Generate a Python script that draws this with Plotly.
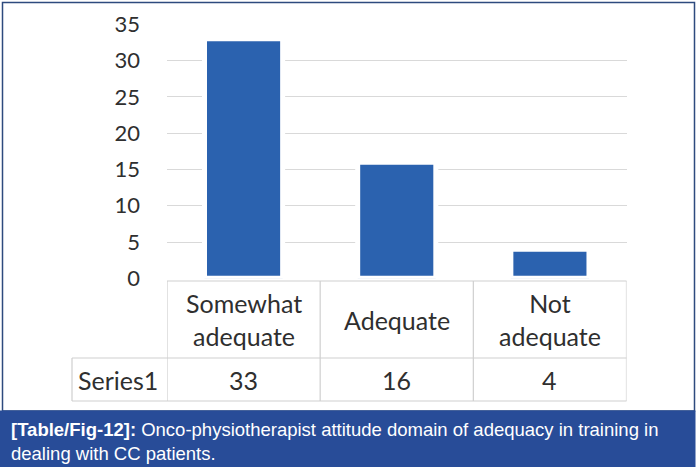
import plotly.graph_objects as go

# ---- data ----
categories = ["Somewhat<br>adequate", "Adequate", "Not<br>adequate"]
values = [33, 16, 4]
series_name = "Series1"
y_ticks = [0, 5, 10, 15, 20, 25, 30, 35]
caption_label = "[Table/Fig-12]:"
caption_text = "Onco-physiotherapist attitude domain of adequacy in training in<br>dealing with CC patients."

W, H = 699, 471


def px(x):
    return x / W


def py(y):
    return 1 - y / H


BAR = "#2b62af"
GRID = "#d9d9d9"
TABLE = "#cfcfcf"
TXT = "#2f2f2f"
FONT = "Lato"
FRAME = "#2d4a7e"
CAPBG = "#284c98"

x_idx = list(range(len(categories)))

fig = go.Figure(
    go.Bar(
        x=x_idx,
        y=values,
        width=0.51,
        marker=dict(color=BAR, line=dict(color="white", width=5)),
        showlegend=False,
        hoverinfo="skip",
    )
)

plot_left, plot_right = 167, 626.5
y0_px, y35_px = 278.3, 24.3

fig.update_layout(
    width=W,
    height=H,
    margin=dict(l=0, r=0, t=0, b=0, pad=0, autoexpand=False),
    paper_bgcolor="white",
    plot_bgcolor="white",
    xaxis=dict(
        domain=[px(plot_left), px(plot_right)],
        range=[-0.5, len(categories) - 0.5],
        showticklabels=False,
        showgrid=False,
        zeroline=False,
        showline=False,
        automargin=False,
        fixedrange=True,
    ),
    yaxis=dict(
        domain=[py(y0_px), py(y35_px)],
        range=[0, 35],
        tickvals=y_ticks,
        tickfont=dict(family=FONT, size=22, color=TXT),
        ticklabelstandoff=26,
        showgrid=True,
        gridcolor=GRID,
        gridwidth=1,
        zeroline=True,
        zerolinecolor="white",
        zerolinewidth=1,
        showline=False,
        ticks="",
        automargin=False,
        fixedrange=True,
    ),
)

shapes = []
# frame around chart
shapes.append(dict(type="rect", xref="paper", yref="paper",
                   x0=px(2.5), x1=px(694.5), y0=py(411), y1=py(2.5),
                   line=dict(color=FRAME, width=1.5), fillcolor="rgba(0,0,0,0)", layer="below"))
# caption box
shapes.append(dict(type="rect", xref="paper", yref="paper",
                   x0=0, x1=px(695.5), y0=py(467), y1=py(410.5),
                   line=dict(width=0), fillcolor=CAPBG, layer="above"))

# table lines
row_top, row_mid, row_bot = 281, 358, 401
series_left = 72
for (xa, xb, yy) in [(plot_left, plot_right, row_top),
                     (series_left, plot_right, row_mid),
                     (series_left, plot_right, row_bot)]:
    shapes.append(dict(type="line", xref="paper", yref="paper",
                       x0=px(xa), x1=px(xb), y0=py(yy), y1=py(yy),
                       line=dict(color=TABLE, width=1.2)))
shapes.append(dict(type="line", xref="paper", yref="paper",
                   x0=px(series_left), x1=px(series_left), y0=py(row_mid), y1=py(row_bot),
                   line=dict(color=TABLE, width=1.2)))
for b in [i - 0.5 for i in range(len(categories) + 1)]:
    shapes.append(dict(type="line", xref="x", yref="paper",
                       x0=b, x1=b, y0=py(row_top), y1=py(row_bot),
                       line=dict(color=TABLE, width=1.2)))
fig.update_layout(shapes=shapes)

ann = []
for i, (c, v) in enumerate(zip(categories, values)):
    ann.append(dict(x=i, y=py((row_top + row_mid) / 2), xref="x", yref="paper",
                    text=c, showarrow=False, xanchor="center", yanchor="middle",
                    font=dict(family=FONT, size=25, color=TXT)))
    ann.append(dict(x=i, y=py((row_mid + row_bot) / 2), xref="x", yref="paper",
                    text=str(v), showarrow=False, xanchor="center", yanchor="middle",
                    font=dict(family=FONT, size=25, color=TXT)))
ann.append(dict(x=px((series_left + plot_left) / 2 - 2), y=py((row_mid + row_bot) / 2),
                xref="paper", yref="paper", text=series_name, showarrow=False,
                xanchor="center", yanchor="middle",
                font=dict(family=FONT, size=25, color=TXT)))
ann.append(dict(x=px(9), y=py(441), xref="paper", yref="paper",
                text="<b>" + caption_label + "</b> " + caption_text,
                showarrow=False, xanchor="left", yanchor="middle", align="left",
                font=dict(family="Liberation Sans", size=18.5, color="white")))
fig.update_layout(annotations=ann)

fig.write_html("out.html", config={"displayModeBar": False},
               post_script="document.body.style.margin='0';document.body.style.overflow='hidden';")
